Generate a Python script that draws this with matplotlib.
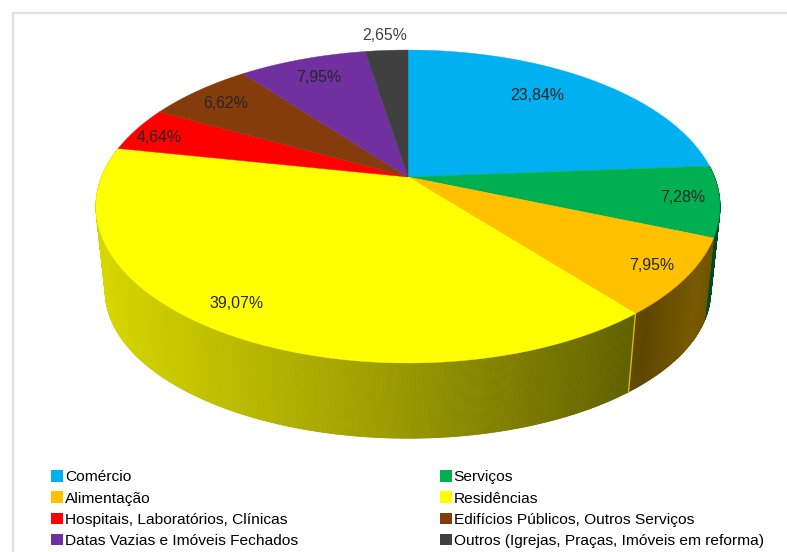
import matplotlib
matplotlib.use('Agg')
import matplotlib.pyplot as plt
from matplotlib.collections import PolyCollection
from matplotlib.colors import to_rgb
from matplotlib.patches import Patch, Rectangle
import numpy as np

categories = ['Comércio', 'Serviços', 'Alimentação', 'Residências',
              'Hospitais, Laboratórios, Clínicas', 'Edifícios Públicos, Outros Serviços',
              'Datas Vazias e Imóveis Fechados', 'Outros (Igrejas, Praças, Imóveis em reforma)']
values = [23.84, 7.28, 7.95, 39.07, 4.64, 6.62, 7.95, 2.65]
colors = ['#00b0f0', '#00b050', '#ffc000', '#ffff00', '#ff0000', '#843c0c', '#7030a0', '#404040']
label_xy = [(537, 96), (683, 198), (652, 265), (236, 303),
            (159, 138), (226, 104), (319, 77), (385, 36)]

plt.rcParams['font.family'] = ['Liberation Sans', 'DejaVu Sans']

# pie geometry in pixels, the disc is tilted with a little perspective
cx, cy = 408, 177
rim_a, rim_b, rim_k = 306.4, 150.9, 0.1885
wall_sx, wall_sy, wall_drop = 0.97, 0.94, 86.4


def top_rim(turn):
    # turn is the fraction of the circle, clockwise from twelve o'clock
    t = 2 * np.pi * np.asarray(turn)
    d = 1 + rim_k * np.cos(t)
    return cx + rim_a * np.sin(t) / d, cy - rim_b * np.cos(t) / d


def low_rim(turn):
    x, y = top_rim(turn)
    return cx + wall_sx * (x - cx), cy + wall_drop + wall_sy * (y - cy)


fig = plt.figure(figsize=(7.87, 5.52), dpi=100)
ax = fig.add_axes([0, 0, 1, 1])
ax.axis('off')

# chart frame, only its top and left edges fall inside the figure
ax.add_patch(Rectangle((12.5, 12.5), 900, 700, fc='white', ec='#e2e2e2', lw=1.6))

edges = np.cumsum([0] + values) / 100.0

# side wall as narrow quads, lighter on the left and darker towards the right
for i, col in enumerate(colors):
    lo, hi = edges[i], edges[i + 1]
    if hi <= 0.25 or lo >= 0.78:
        continue
    turns = np.linspace(lo, hi, int((hi - lo) * 1500) + 2)
    xt, yt = top_rim(turns)
    xb, yb = low_rim(turns)
    quads = []
    tints = []
    for k in range(len(turns) - 1):
        quads.append([(xt[k], yt[k]), (xt[k + 1], yt[k + 1]), (xb[k + 1], yb[k + 1]), (xb[k], yb[k])])
        f = np.interp(xb[k], [96, 400, 640, 690, 720], [0.85, 0.6, 0.37, 0.47, 0.4])
        tints.append(np.array(to_rgb(col)) * f)
    ax.add_collection(PolyCollection(quads, facecolors=tints, edgecolors=tints, linewidths=0.6, zorder=2))

# thin seam on the wall between two slices
xs0, ys0 = top_rim(edges[3])
xs1, ys1 = low_rim(edges[3])
ax.plot([xs0, xs1], [ys0, ys1], color='#d2bc10', lw=1, zorder=3)

# top face of the disc
for i, col in enumerate(colors):
    turns = np.linspace(edges[i], edges[i + 1], 150)
    x, y = top_rim(turns)
    ax.fill(np.r_[cx, x], np.r_[cy, y], color=col, lw=0.3, zorder=4)

for val, pos in zip(values, label_xy):
    txt = ('%.2f%%' % val).replace('.', ',')
    ax.text(pos[0], pos[1], txt, ha='center', va='center', fontsize=11.4,
            color='#404040' if val == 2.65 else '#262626', zorder=5)

ax.set_xlim(0, 787)
ax.set_ylim(552, 0)

# two legend columns, filled row by row
handles = [Patch(fc=c, ec='none', label=n) for c, n in zip(colors, categories)]
order = [0, 2, 4, 6, 1, 3, 5, 7]
ax.legend([handles[j] for j in order], [categories[j] for j in order], ncol=2,
          loc='lower left', bbox_to_anchor=(51 / 787, 1 - 548 / 552), frameon=False,
          fontsize=11.15, handlelength=0.78, handleheight=0.78, handletextpad=0.12,
          labelspacing=0.45, columnspacing=9.15, borderpad=0, borderaxespad=0)

fig.savefig('out.png', dpi=100)
